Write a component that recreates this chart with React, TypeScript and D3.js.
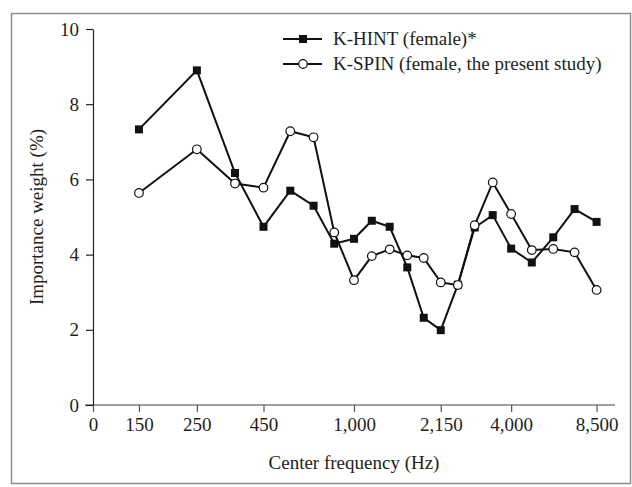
import React, { useRef, useEffect } from "react";
import * as d3 from "d3";

// critical band centre frequencies (Hz)
const frequencies = [
  150, 250, 350, 450, 570, 700, 840, 1000, 1170, 1370, 1600, 1850, 2150, 2500,
  2900, 3400, 4000, 4800, 5800, 7000, 8500,
];

const kHint = [
  7.33, 8.9, 6.17, 4.74, 5.7, 5.3, 4.29, 4.42, 4.9, 4.74, 3.66, 2.32, 1.99, 3.2,
  4.72, 5.05, 4.16, 3.79, 4.46, 5.21, 4.87,
];

const kSpin = [
  5.64, 6.8, 5.89, 5.78, 7.28, 7.12, 4.59, 3.32, 3.96, 4.14, 3.98, 3.91, 3.26,
  3.19, 4.78, 5.92, 5.08, 4.12, 4.15, 4.06, 3.06,
];

// the "0" label sits at the 100 Hz position of the log axis
const xTickValues = [100, 150, 250, 450, 1000, 2150, 4000, 8500];
const xTickLabels = ["0", "150", "250", "450", "1,000", "2,150", "4,000", "8,500"];
const yTickValues = [0, 2, 4, 6, 8, 10];

const seriesNames = ["K-HINT (female)*", "K-SPIN (female, the present study)"];

const App = () => {
  const svgRef = useRef<SVGSVGElement>(null);

  useEffect(() => {
    const W = 632;
    const H = 487;
    const margin = { top: 29, right: 17, bottom: 82, left: 93 };
    const width = W - margin.left - margin.right;
    const height = H - margin.top - margin.bottom;
    const font = "'Liberation Serif', 'DejaVu Serif', serif";
    const ink = "#231f20";

    const svg = d3.select(svgRef.current);
    svg.selectAll("*").remove();

    // outer frame
    svg
      .append("rect")
      .attr("x", 11.5)
      .attr("y", 13.5)
      .attr("width", 619)
      .attr("height", 470)
      .attr("fill", "white")
      .attr("stroke", "#8c8c8c")
      .attr("stroke-width", 1.5);

    const chart = svg
      .append("g")
      .attr("transform", `translate(${margin.left}, ${margin.top})`);

    const x = d3.scaleLog().domain([100, 10000]).range([0, width]);
    const y = d3.scaleLinear().domain([0, 10]).range([height, 0]);

    // x axis
    const xAxis = d3
      .axisBottom(x)
      .tickValues(xTickValues)
      .tickFormat((d, i) => xTickLabels[i])
      .tickSize(7)
      .tickSizeOuter(0)
      .tickPadding(6);

    const gx = chart
      .append("g")
      .attr("transform", `translate(0, ${height})`)
      .call(xAxis);
    gx.select(".domain")
      .attr("d", `M-8,0H${width}`)
      .attr("stroke", "#7f7f7f")
      .attr("stroke-width", 1.5);
    gx.selectAll(".tick line").attr("stroke", "#555").attr("stroke-width", 1.2);
    gx.selectAll(".tick text")
      .attr("font-family", font)
      .attr("font-size", 19)
      .attr("fill", ink);

    // y axis
    const yAxis = d3
      .axisLeft(y)
      .tickValues(yTickValues)
      .tickSize(7)
      .tickSizeOuter(0)
      .tickPadding(7);

    const gy = chart.append("g").call(yAxis);
    gy.select(".domain").attr("stroke", ink).attr("stroke-width", 1.2);
    gy.selectAll(".tick line").attr("stroke", ink).attr("stroke-width", 1.2);
    gy.selectAll(".tick text")
      .attr("font-family", font)
      .attr("font-size", 19)
      .attr("fill", ink);

    // axis titles
    chart
      .append("text")
      .attr("x", width / 2)
      .attr("y", height + 64)
      .attr("text-anchor", "middle")
      .attr("font-family", font)
      .attr("font-size", 19)
      .attr("fill", ink)
      .text("Center frequency (Hz)");

    chart
      .append("text")
      .attr("transform", `translate(-50, ${height / 2}) rotate(-90)`)
      .attr("text-anchor", "middle")
      .attr("font-family", font)
      .attr("font-size", 19)
      .attr("fill", ink)
      .text("Importance weight (%)");

    const line = d3
      .line<number>()
      .x((d, i) => x(frequencies[i]))
      .y((d) => y(d));

    const lineColor = "#111";
    const sq = 8;

    // K-HINT: filled squares
    chart
      .append("path")
      .datum(kHint)
      .attr("d", line)
      .attr("fill", "none")
      .attr("stroke", lineColor)
      .attr("stroke-width", 2);

    chart
      .selectAll(".hint")
      .data(kHint)
      .enter()
      .append("rect")
      .attr("class", "hint")
      .attr("x", (d, i) => x(frequencies[i]) - sq / 2)
      .attr("y", (d) => y(d) - sq / 2)
      .attr("width", sq)
      .attr("height", sq)
      .attr("fill", lineColor);

    // K-SPIN: open circles
    chart
      .append("path")
      .datum(kSpin)
      .attr("d", line)
      .attr("fill", "none")
      .attr("stroke", lineColor)
      .attr("stroke-width", 2);

    chart
      .selectAll(".spin")
      .data(kSpin)
      .enter()
      .append("circle")
      .attr("class", "spin")
      .attr("cx", (d, i) => x(frequencies[i]))
      .attr("cy", (d) => y(d))
      .attr("r", 4.3)
      .attr("fill", "white")
      .attr("stroke", lineColor)
      .attr("stroke-width", 1.2);

    // legend
    const legend = svg.append("g").attr("transform", "translate(283, 39)");
    seriesNames.forEach((name, i) => {
      const row = legend.append("g").attr("transform", `translate(0, ${i * 25})`);
      row
        .append("line")
        .attr("x1", 0)
        .attr("x2", 39)
        .attr("y1", 0)
        .attr("y2", 0)
        .attr("stroke", lineColor)
        .attr("stroke-width", 2);
      if (i === 0) {
        row
          .append("rect")
          .attr("x", 20 - sq / 2)
          .attr("y", -sq / 2)
          .attr("width", sq)
          .attr("height", sq)
          .attr("fill", lineColor);
      } else {
        row
          .append("circle")
          .attr("cx", 20)
          .attr("cy", 0)
          .attr("r", 4.3)
          .attr("fill", "white")
          .attr("stroke", lineColor)
          .attr("stroke-width", 1.2);
      }
      row
        .append("text")
        .attr("x", 50)
        .attr("y", 6)
        .attr("font-family", font)
        .attr("font-size", 19)
        .attr("fill", ink)
        .text(name);
    });
  }, []);

  return (
    <svg
      ref={svgRef}
      width={632}
      height={487}
      style={{ position: "absolute", left: 0, top: 0, background: "white" }}
    ></svg>
  );
};

export default App;
